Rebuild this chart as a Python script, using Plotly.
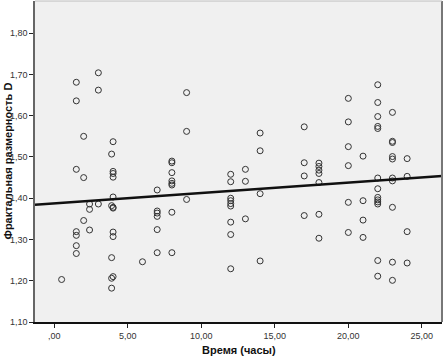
import numpy as np
import plotly.graph_objects as go

# Data: hours and fractal dimension D
hours_groups = [0.5, 1.5, 2.0, 2.4, 3.0, 4.0, 3.9, 6.0, 7.0, 8.0, 9.0, 12.0, 13.0, 14.0,
                17.0, 18.0, 20.0, 21.0, 22.0, 23.0, 24.0]
d_groups = [
    [1.203],
    [1.681, 1.636, 1.470, 1.319, 1.310, 1.285, 1.266],
    [1.550, 1.450, 1.346],
    [1.386, 1.373, 1.323],
    [1.704, 1.662, 1.386],
    [1.537, 1.465, 1.460, 1.451, 1.403, 1.378, 1.376, 1.318, 1.307, 1.210],
    [1.507, 1.382, 1.256, 1.206, 1.182],
    [1.246],
    [1.420, 1.369, 1.364, 1.356, 1.324, 1.268],
    [1.490, 1.486, 1.462, 1.442, 1.436, 1.432, 1.366, 1.268],
    [1.656, 1.562, 1.397],
    [1.458, 1.440, 1.400, 1.394, 1.387, 1.381, 1.342, 1.312, 1.229],
    [1.470, 1.441, 1.350],
    [1.558, 1.515, 1.411, 1.248],
    [1.573, 1.486, 1.454, 1.358],
    [1.485, 1.477, 1.468, 1.460, 1.438, 1.361, 1.303],
    [1.642, 1.585, 1.525, 1.479, 1.390, 1.317],
    [1.502, 1.394, 1.347, 1.305],
    [1.675, 1.632, 1.598, 1.574, 1.569, 1.449, 1.423, 1.402, 1.396, 1.391, 1.386, 1.249, 1.211],
    [1.608, 1.538, 1.535, 1.501, 1.495, 1.449, 1.442, 1.378, 1.245, 1.201],
    [1.496, 1.453, 1.319, 1.243],
]

# Fit line (linear regression)
fit_intercept = 1.3873
fit_slope = 0.00253

x_tick_vals = [0, 5, 10, 15, 20, 25]
x_tick_text = [",00", "5,00", "10,00", "15,00", "20,00", "25,00"]
y_tick_vals = [1.1, 1.2, 1.3, 1.4, 1.5, 1.6, 1.7, 1.8]
y_tick_text = ["1,10", "1,20", "1,30", "1,40", "1,50", "1,60", "1,70", "1,80"]

x_title = "Время (часы)"
y_title = "Фрактальная размерность D"

x_range = [-1.31, 26.37]
y_range = [1.10, 1.878]

hours = []
dvals = []
for h, ds in zip(hours_groups, d_groups):
    for d in ds:
        hours.append(h)
        dvals.append(d)

line_x = np.array(x_range)
line_y = fit_intercept + fit_slope * line_x

fig = go.Figure()
fig.add_trace(go.Scatter(
    x=hours, y=dvals, mode="markers",
    marker=dict(symbol="circle-open", size=6, color="#333333", line=dict(width=1, color="#333333")),
    showlegend=False, hoverinfo="x+y"))
fig.add_trace(go.Scatter(
    x=line_x, y=line_y, mode="lines",
    line=dict(color="#111111", width=2.5),
    showlegend=False, hoverinfo="skip"))

font_family = "Liberation Sans, Arial, sans-serif"

fig.update_layout(
    width=444, height=357,
    margin=dict(l=35, r=2, t=1, b=35),
    paper_bgcolor="white",
    plot_bgcolor="#F0F0F0",
    font=dict(family=font_family, size=9, color="#222222"),
    xaxis=dict(range=x_range, tickvals=x_tick_vals, ticktext=x_tick_text,
               showgrid=False, zeroline=False, ticks="outside", ticklen=4, tickwidth=1,
               tickcolor="#222222", showline=True, linecolor="#111111", linewidth=1.5,
               mirror=False, tickfont=dict(size=9, color="#333333")),
    yaxis=dict(range=y_range, tickvals=y_tick_vals, ticktext=y_tick_text,
               showgrid=False, zeroline=False, ticks="outside", ticklen=4, tickwidth=1,
               tickcolor="#222222", showline=True, linecolor="#666666", linewidth=1.5,
               mirror=False, tickfont=dict(size=9, color="#333333")),
    shapes=[
        dict(type="line", xref="paper", yref="paper", x0=1, x1=1, y0=0, y1=1,
             line=dict(color="#777777", width=2)),
        dict(type="line", xref="paper", yref="paper", x0=0, x1=1, y0=1, y1=1,
             line=dict(color="#BBBBBB", width=1)),
    ],
    annotations=[
        dict(text="<b>" + x_title + "</b>", xref="paper", yref="paper", x=0.5, y=0,
             xanchor="center", yanchor="middle", yshift=-28, showarrow=False,
             font=dict(size=11, color="#111111", family=font_family)),
        dict(text="<b>" + y_title + "</b>", xref="paper", yref="paper", x=0, y=0.5,
             xanchor="center", yanchor="middle", xshift=-28, textangle=-90, showarrow=False,
             font=dict(size=11, color="#111111", family=font_family)),
    ],
)

fig.write_html("out.html", config={"displayModeBar": False},
               post_script="document.body.style.margin='0';")
